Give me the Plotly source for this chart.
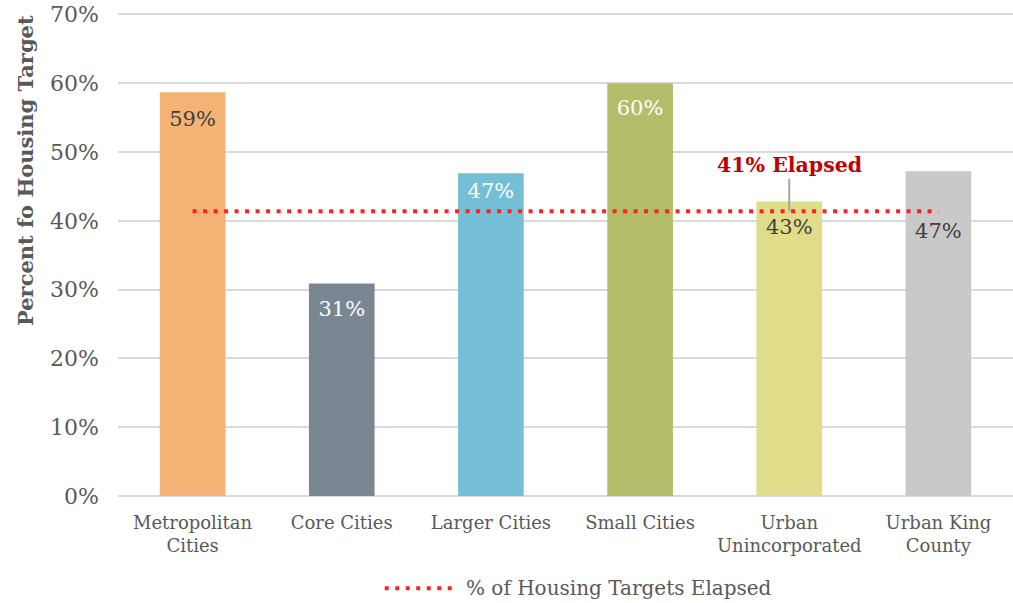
import plotly.graph_objects as go

# 数据
categories = ['Metropolitan<br>Cities', 'Core Cities', 'Larger Cities', 'Small Cities',
              'Urban<br>Unincorporated', 'Urban King<br>County']
values = [0.587, 0.309, 0.469, 0.600, 0.428, 0.472]
bar_labels = ['59%', '31%', '47%', '60%', '43%', '47%']
label_y = [0.546, 0.270, 0.441, 0.561, 0.388, 0.383]  # 标签位置
elapsed = [0.414] * 6
elapsed_label = '41% Elapsed'
legend_label = '% of Housing Targets Elapsed'
y_ticks = [0, 0.1, 0.2, 0.3, 0.4, 0.5, 0.6, 0.7]

bar_colors = ['#F4B274', '#7A8793', '#74BFD5', '#B3BC69', '#E0DC89', '#C9C9C9']
text_colors = ['#404040', '#FFFFFF', '#FFFFFF', '#FFFFFF', '#404040', '#404040']
FONT = 'DejaVu Serif'
GREY = '#595959'
RED = '#FF2020'

fig = go.Figure()

# 柱状图
fig.add_trace(go.Bar(
    x=categories,
    y=values,
    marker=dict(color=bar_colors, line=dict(width=0)),
    width=0.44,
    showlegend=False,
    hoverinfo='skip',
))

# 数据标签
fig.add_trace(go.Scatter(
    x=categories,
    y=label_y,
    text=bar_labels,
    mode='text',
    textfont=dict(family=FONT, size=21, color=text_colors),
    showlegend=False,
    hoverinfo='skip',
))

# 时间进度线
fig.add_trace(go.Scatter(
    x=categories,
    y=elapsed,
    mode='lines',
    line=dict(color=RED, width=4, dash='4px,6.5px'),
    showlegend=False,
))

fig.add_annotation(
    x=categories[4], y=elapsed[4],
    text='<b>' + elapsed_label + '</b>',
    showarrow=True, arrowhead=0, arrowwidth=2, arrowcolor='#A6A6A6',
    ax=0, ay=-46, standoff=0,
    font=dict(family=FONT, size=20.5, color='#C00000'),
)

# 纵轴标题
fig.add_annotation(
    xref='paper', yref='paper', x=-0.104, y=0.672,
    xanchor='center', yanchor='middle',
    text='<b>Percent fo Housing Target</b>', textangle=-90, showarrow=False,
    font=dict(family=FONT, size=21, color=GREY),
)

# 自定义图例
fig.add_shape(
    type='line', xref='paper', yref='paper',
    x0=0.298, x1=0.376, y0=-0.19, y1=-0.19,
    line=dict(color=RED, width=4, dash='4px,6.5px'),
)
fig.add_annotation(
    xref='paper', yref='paper', x=0.387, y=-0.19, xanchor='left', yanchor='middle',
    text=legend_label, showarrow=False,
    font=dict(family=FONT, size=20, color=GREY),
)

fig.update_layout(
    width=1013, height=603,
    margin=dict(l=118, r=0, t=11, b=107),
    plot_bgcolor='white', paper_bgcolor='white',
    font=dict(family=FONT, color=GREY),
    showlegend=False,
)
fig.update_yaxes(
    range=[0, 0.705], tickvals=y_ticks, tickformat='.0%',
    showgrid=True, gridcolor='#D9D9D9', gridwidth=2,
    zeroline=True, zerolinecolor='#D9D9D9', zerolinewidth=2,
    tickfont=dict(family=FONT, size=22, color=GREY),
    ticklabelstandoff=18, ticklabeloverflow='allow', automargin=False,
)
fig.update_xaxes(
    tickfont=dict(family=FONT, size=18, color=GREY),
    showline=False, ticks='', ticklabelstandoff=14, automargin=False,
)

# 去掉页面默认的 8px 边距，隐藏工具栏
fig.write_html('out.html', config={'displayModeBar': False},
               post_script="document.body.style.margin='0';")
